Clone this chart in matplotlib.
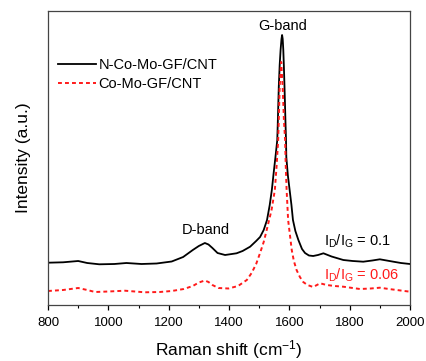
import matplotlib
matplotlib.use("Agg")
import matplotlib.pyplot as plt
from matplotlib.ticker import MultipleLocator

plt.rcParams['font.family'] = ['Liberation Sans', 'DejaVu Sans']
plt.rcParams['mathtext.fontset'] = 'custom'
plt.rcParams['mathtext.rm'] = 'Liberation Sans'
plt.rcParams['mathtext.it'] = 'Liberation Sans:italic'

# N-Co-Mo-GF/CNT spectrum (Raman shift, intensity a.u.)
n_shift = [800, 850, 900, 930, 970, 1020, 1060, 1110, 1160, 1210, 1248, 1280, 1300,
           1320, 1332, 1345, 1362, 1387, 1425, 1445, 1470, 1490, 1503, 1515, 1526,
           1535, 1542, 1548, 1554, 1560, 1562, 1565, 1568, 1571, 1574, 1576, 1578,
           1580, 1582, 1584, 1587, 1589, 1590, 1595, 1601, 1607, 1612, 1620, 1630,
           1642, 1652, 1665, 1679, 1695, 1713, 1740, 1779, 1810, 1845, 1875, 1900,
           1945, 1970, 2000]
n_int = [42.3, 42.7, 44, 42, 40.7, 41, 42, 41, 41.5, 43.5, 48, 55, 59,
         62, 60.5, 57, 52, 50, 51.7, 54, 58.3, 64, 68, 75, 85,
         100, 115, 132, 148, 165, 185, 218, 240, 255, 266, 270, 266,
         255, 238, 218, 185, 165, 148, 130, 115, 100, 85, 74, 65,
         56, 52, 49.5, 49, 50, 51.7, 48.5, 45, 44, 43.3, 44.5, 45.7,
         43.3, 42, 41]

# Co-Mo-GF/CNT spectrum
c_shift = [800, 850, 900, 930, 956, 1000, 1055, 1121, 1170, 1210, 1250, 1280, 1300,
           1320, 1332, 1345, 1365, 1398, 1430, 1459, 1475, 1490, 1503, 1515, 1525,
           1541, 1552, 1558, 1563, 1565, 1568, 1573, 1578, 1582, 1586, 1588, 1591,
           1596, 1608, 1615, 1624, 1635, 1646, 1660, 1679, 1702, 1724, 1750, 1779,
           1834, 1870, 1900, 1930, 1956, 2000]
c_int = [14, 15, 17, 15, 13, 13.5, 14.3, 12.7, 13, 14, 16, 19, 22.5,
         24.5, 23, 20, 17, 16.5, 19, 25, 32, 41, 52, 63, 75,
         95, 115, 140, 165, 185, 218, 243, 218, 185, 165, 140, 115,
         85, 55, 44, 35, 28, 23, 20, 18, 21.7, 20, 19, 18.3,
         16, 16.5, 17.3, 16, 15, 13.3]

labels = ['N-Co-Mo-GF/CNT', 'Co-Mo-GF/CNT']
x_ticks = [800, 1000, 1200, 1400, 1600, 1800, 2000]

fig = plt.figure(figsize=(4.26, 3.61), dpi=100)
ax = fig.add_axes([48/426, 56/361, 362/426, 294/361])

ax.plot(n_shift, n_int, color='black', lw=1.3, label=labels[0])
ax.plot(c_shift, c_int, color='#ff1a1a', lw=1.4, ls=(0, (2, 1.6)), label=labels[1])

ax.set_xlim(800, 2000)
ax.set_ylim(0, 294)
ax.set_xticks(x_ticks)
ax.xaxis.set_minor_locator(MultipleLocator(100))
ax.set_yticks([])
ax.tick_params(axis='x', which='major', direction='out', length=3.5, width=0.9,
               labelsize=9.5, pad=5.5, top=False)
ax.tick_params(axis='x', which='minor', direction='out', length=2, width=0.8, top=False)
for s in ax.spines.values():
    s.set_color('#444444')
    s.set_linewidth(0.9)

ax.set_xlabel('Raman shift (cm$^{-1}$)', fontsize=12.5, labelpad=6.5)
ax.set_ylabel('Intensity (a.u.)', fontsize=12.5, labelpad=12)

ax.text(1579, 272, 'G-band', ha='center', va='bottom', fontsize=10.5)
ax.text(1322, 68, 'D-band', ha='center', va='bottom', fontsize=10.5)
ax.text(1716, 64, r'I$_\mathrm{D}$/I$_\mathrm{G}$ = 0.1', ha='left', va='center', fontsize=10.5)
ax.text(1716, 30, r'I$_\mathrm{D}$/I$_\mathrm{G}$ = 0.06', ha='left', va='center',
        fontsize=10.5, color='#ff1a1a')

ax.legend(loc='upper left', bbox_to_anchor=(0.0, 0.875), frameon=False, fontsize=10.5,
          handlelength=2.6, handletextpad=0.15, labelspacing=0.32, borderaxespad=0.3)

fig.savefig('out.png', dpi=100)
